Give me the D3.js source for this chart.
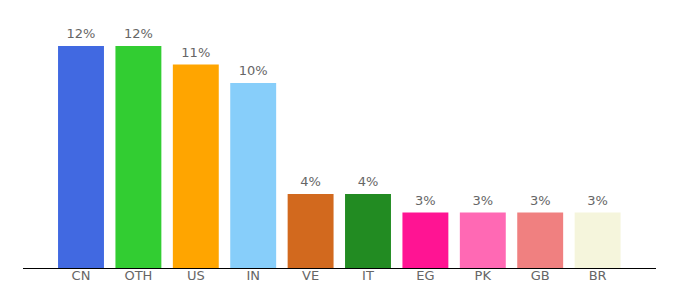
<!DOCTYPE html>
<html>
<head>
<meta charset="utf-8">
<script src="https://cdn.jsdelivr.net/npm/d3@7"></script>
<style>
  body { margin: 0; background: #fff; }
  text { font-family: "DejaVu Sans", Verdana, sans-serif; }
</style>
</head>
<body>
<div id="chart"></div>
<script>
// data
var countries = ["CN", "OTH", "US", "IN", "VE", "IT", "EG", "PK", "GB", "BR"]
var shares = [12, 12, 11, 10, 4, 4, 3, 3, 3, 3]
var barColors = ["#4169e1", "#32cd32", "#ffa500", "#87cefa", "#d2691e",
                 "#228b22", "#ff1493", "#ff69b4", "#f08080", "#f5f5dc"]

var width = 680, height = 300

var svg = d3.select("#chart")
  .append("svg")
    .attr("width", width)
    .attr("height", height)

var x = d3.scaleBand()
  .domain(countries)
  .range([52.3, 626.3])
  .paddingInner(0.2)
  .paddingOuter(0.1)

var y = d3.scaleLinear()
  .domain([0, 12])
  .range([268, 46])

// bars
svg.selectAll("rect.bar")
  .data(countries)
  .enter()
  .append("rect")
    .attr("class", "bar")
    .attr("x", function(d) { return x(d) })
    .attr("y", function(d, i) { return y(shares[i]) })
    .attr("width", x.bandwidth())
    .attr("height", function(d, i) { return y(0) - y(shares[i]) })
    .attr("fill", function(d, i) { return barColors[i] })

// value labels
svg.selectAll("text.val")
  .data(countries)
  .enter()
  .append("text")
    .attr("class", "val")
    .attr("x", function(d) { return x(d) + x.bandwidth() / 2 })
    .attr("y", function(d, i) { return y(shares[i]) - 8 })
    .attr("text-anchor", "middle")
    .style("font-size", "13px")
    .style("fill", "#666")
    .text(function(d, i) { return shares[i] + "%" })

// x axis
var axis = svg.append("g")
  .attr("transform", "translate(0," + y(0) + ")")
  .call(d3.axisBottom(x).tickSize(0).tickPadding(3))
axis.select(".domain").remove()
axis.selectAll("text")
  .style("font-size", "13px")
  .style("fill", "#666")
  .style("font-family", "DejaVu Sans, Verdana, sans-serif")

svg.append("line")
  .attr("x1", 23).attr("x2", 656)
  .attr("y1", y(0) + 0.5).attr("y2", y(0) + 0.5)
  .attr("stroke", "#000")
  .attr("stroke-width", 1)
</script>
</body>
</html>
